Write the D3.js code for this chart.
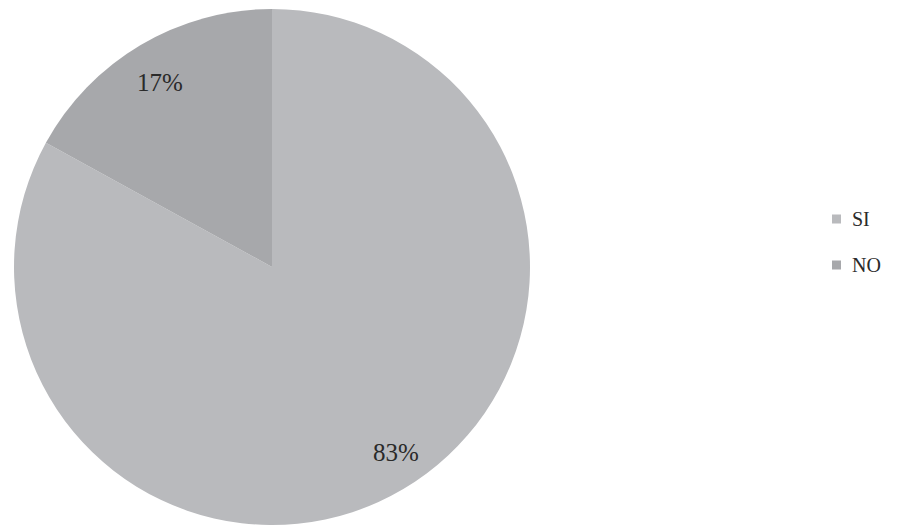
<!DOCTYPE html>
<html><head><meta charset="utf-8">
<script src="https://cdn.jsdelivr.net/npm/d3@7"></script>
<style>body{margin:0;background:#fff}svg{display:block}</style>
</head><body>
<script>
const categories = ["SI", "NO"];
const values = [83, 17];
const labels = ["83%", "17%"];
const colors = ["#b9babd", "#a7a8ab"];

const W = 899, H = 531;
const svg = d3.select("body").append("svg").attr("width", W).attr("height", H);
const cx = 272, cy = 267, r = 258;
const pie = d3.pie().sort(null).value(d => d)(values);
const arc = d3.arc().innerRadius(0).outerRadius(r);
const g = svg.append("g").attr("transform", `translate(${cx},${cy})`);
g.selectAll("path").data(pie).join("path")
  .attr("d", arc).attr("fill", (d, i) => colors[i]);
const labelPos = [[124, 185], [-112, -185]];
g.selectAll("text").data(pie).join("text")
  .attr("x", (d, i) => labelPos[i][0]).attr("y", (d, i) => labelPos[i][1])
  .attr("text-anchor", "middle").attr("dominant-baseline", "central")
  .attr("font-family", "Liberation Serif, DejaVu Serif, serif").attr("font-size", 25)
  .attr("fill", "#2a2a2a").text((d, i) => labels[i]);

const lg = svg.append("g");
categories.forEach((c, i) => {
  const y = 219 + i * 46;
  lg.append("rect").attr("x", 832).attr("y", y - 4.5).attr("width", 9).attr("height", 9).attr("fill", colors[i]);
  lg.append("text").attr("x", 852).attr("y", y).attr("dominant-baseline", "central")
    .attr("font-family", "Liberation Serif, DejaVu Serif, serif").attr("font-size", 20)
    .attr("fill", "#2a2a2a").text(c);
});
</script>
</body></html>
